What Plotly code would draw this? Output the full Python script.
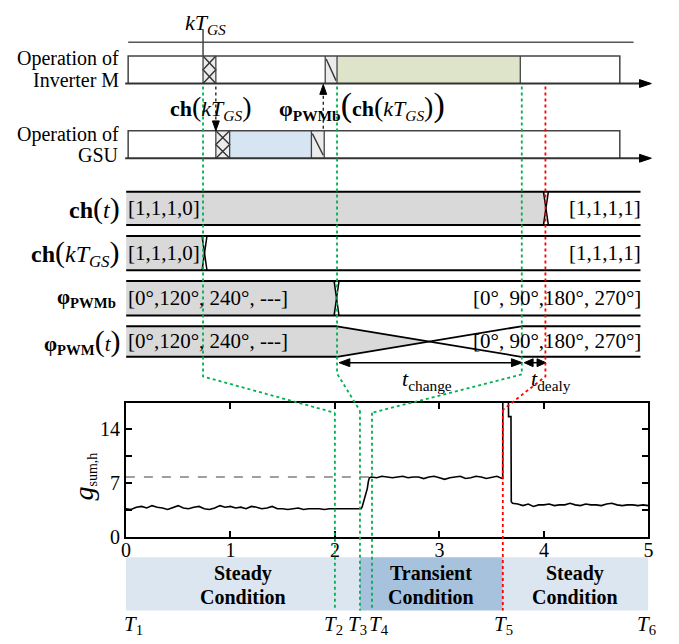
import plotly.graph_objects as go

# ---------------------------------------------------------------- data
# harmonic index g_sum,h over time (s)
time_s = [
    0.00, 0.05, 0.10, 0.15, 0.20, 0.25, 0.30, 0.35, 0.40, 0.45,
    0.50, 0.55, 0.60, 0.65, 0.70, 0.75, 0.80, 0.85, 0.90, 0.95,
    1.00, 1.05, 1.10, 1.15, 1.20, 1.25, 1.30, 1.35, 1.40,
    1.45, 1.50, 1.55, 1.60, 1.65, 1.70, 1.75, 1.80, 1.85, 1.90,
    1.95, 2.00, 2.05, 2.10, 2.15, 2.20, 2.25,
    2.26, 2.27, 2.28, 2.29, 2.30, 2.31, 2.32, 2.33,
    2.35, 2.40, 2.45, 2.50, 2.55, 2.60, 2.65, 2.70, 2.75, 2.80,
    2.85, 2.90, 2.95, 3.00, 3.05, 3.10, 3.15, 3.20, 3.25, 3.30,
    3.35, 3.40, 3.45, 3.50, 3.55, 3.60,
    3.606, 3.607, 3.660, 3.662, 3.685, 3.688,
    3.70, 3.75, 3.80, 3.85, 3.90, 3.95, 4.00, 4.05, 4.10, 4.15,
    4.20, 4.25, 4.30, 4.35, 4.40, 4.45, 4.50, 4.55, 4.60, 4.65,
    4.70, 4.75, 4.80, 4.85, 4.90, 4.95, 5.00,
]
g_sum_h = [
    3.7, 3.6, 3.9, 4.0, 3.8, 4.1, 3.9, 3.8, 3.6, 3.9,
    4.1, 3.8, 3.7, 3.9, 4.0, 3.7, 3.6, 3.8, 4.1, 3.9,
    4.0, 3.8, 3.9, 3.7, 4.0, 3.9, 3.7, 3.8, 4.0,
    3.7, 3.7, 3.6, 3.7, 3.8, 3.6, 3.7, 3.7, 3.7, 3.6,
    3.7, 3.7, 3.7, 3.7, 3.7, 3.7, 3.7,
    3.9, 4.4, 4.8, 5.5, 5.9, 6.3, 7.2, 7.7,
    7.8, 7.7, 7.9, 7.8, 7.7, 7.8, 7.9, 7.7, 7.8, 7.8,
    7.6, 7.8, 7.9, 7.7, 7.5, 7.7, 7.8, 7.9, 7.6, 7.7,
    7.9, 7.8, 7.6, 7.8, 7.9, 7.6,
    7.6, 19.0, 19.0, 15.6, 15.6, 4.6,
    4.4, 4.3, 4.1, 4.3, 4.0, 4.2, 4.2, 4.3, 4.1, 4.2,
    4.2, 4.4, 4.2, 4.1, 4.3, 4.2, 4.2, 4.1, 4.3, 4.4,
    4.2, 4.1, 4.2, 4.2, 4.1, 4.2, 4.1,
]
ref_level = 7.8
ref_span = [0.0, 2.34]

x_ticks = [0, 1, 2, 3, 4, 5]
y_ticks = [0, 3.5, 7, 10.5, 14]
y_tick_text = ["0", "", "7", "", "14"]
x_range = [0, 5]
y_range = [0, 17.4]

# event instants on the time axis
event_names = ["T1", "T2", "T3", "T4", "T5", "T6"]
event_times = [0.0, 2.0, 2.24, 2.355, 3.607, 5.0]

# operating phases: (start, end, line 1, line 2)
phases = [(0.0, 2.24, "Steady", "Condition"),
          (2.24, 3.607, "Transient", "Condition"),
          (3.607, 5.0, "Steady", "Condition")]

# ---------------------------------------------------------------- layout helpers
W, H = 679, 644
SERIF = "Liberation Serif, Times New Roman, serif"
GREEN = "#00b050"
RED = "#ff0000"
GREY_FILL = "#d9d9d9"
HATCH_FILL = "#ececec"

PLOT_L, PLOT_R = 122.7, 653.0
PLOT_T, PLOT_B = 409.7, 546.7
BAND_T, BAND_B = 567.0, 621.0


def fx(x):
    return x / W


def fy(y):
    return 1 - y / H


def data_px(v):
    """pixel column of a time value on the chart axis"""
    return PLOT_L + (v - x_range[0]) / (x_range[1] - x_range[0]) * (PLOT_R - PLOT_L)


shapes = []
annotations = []


def seg(x0, y0, x1, y1, color="black", width=1.5, dash=None):
    shapes.append(dict(type="line", xref="paper", yref="paper",
                       x0=fx(x0), y0=fy(y0), x1=fx(x1), y1=fy(y1),
                       line=dict(color=color, width=width, dash=dash),
                       layer="above"))


def box(x0, y0, x1, y1, fill):
    shapes.append(dict(type="rect", xref="paper", yref="paper",
                       x0=fx(x0), y0=fy(y0), x1=fx(x1), y1=fy(y1),
                       fillcolor=fill, line=dict(width=0), layer="above"))


def poly(points, fill=None, color="black", width=1.5, closed=True, dash=None):
    path = "M " + " L ".join(f"{fx(x):.5f},{fy(y):.5f}" for x, y in points)
    if closed:
        path += " Z"
    shapes.append(dict(type="path", xref="paper", yref="paper", path=path,
                       fillcolor=fill if fill else "rgba(0,0,0,0)",
                       line=dict(color=color, width=width if width else 0, dash=dash),
                       layer="above"))


def text(x, y, s, size=20, xanchor="center", yanchor="middle", angle=0, color="black",
         pad=1):
    annotations.append(dict(x=fx(x), y=fy(y), xref="paper", yref="paper", text=s,
                            showarrow=False, xanchor=xanchor, yanchor=yanchor,
                            textangle=angle, borderpad=pad,
                            font=dict(family=SERIF, size=size, color=color)))


def cross_hatch(x0, y0, x1, y1):
    box(x0, y0, x1, y1, HATCH_FILL)
    ym = (y0 + y1) / 2
    poly([(x0, y0), (x1, ym), (x0, y1)], closed=False, color="#333", width=1.4)
    poly([(x1, y0), (x0, ym), (x1, y1)], closed=False, color="#333", width=1.4)


def slash_hatch(x0, y0, x1, y1):
    box(x0, y0, x1, y1, HATCH_FILL)
    seg(x0 + 1, y0 + 3, x1 - 1, y1 - 3, "#333", 1.4)


def arrow_head(tip_x, tip_y, direction, length=11, half=4):
    if direction == "right":
        pts = [(tip_x - length, tip_y - half), (tip_x, tip_y), (tip_x - length, tip_y + half)]
    elif direction == "left":
        pts = [(tip_x + length, tip_y - half), (tip_x, tip_y), (tip_x + length, tip_y + half)]
    elif direction == "down":
        pts = [(tip_x - half, tip_y - length), (tip_x, tip_y), (tip_x + half, tip_y - length)]
    else:
        pts = [(tip_x - half, tip_y + length), (tip_x, tip_y), (tip_x + half, tip_y + length)]
    poly(pts, fill="black", color="black", width=1)


def paren(ch, size=26):
    return f"<span style='font-size:{size}px'>{ch}</span>"


# ---------------------------------------------------------------- operation rows
seg(125, 43, 638, 43, "#555", 1.5)
seg(201, 30, 201, 57, "#444", 1.5)
text(181, 24, "<i>kT</i><sub><i>GS</i></sub>", size=22, xanchor="left")

# inverter M
box(337, 57, 523, 85, "#dde4c9")
cross_hatch(201, 57, 214, 85)
slash_hatch(325, 57, 337, 85)
poly([(125, 85), (125, 57), (624, 57), (624, 85)], closed=False, color="#444", width=1.5)
for xv in (201, 214, 325, 337, 523):
    seg(xv, 57, xv, 85, "#444", 1.3)
seg(122, 85, 647, 85, "#333", 2)
arrow_head(656, 85, "right", length=12, half=4)

# grid-support unit
box(228, 133, 311, 161, "#d7e4f1")
cross_hatch(214, 133, 228, 161)
slash_hatch(311, 133, 324, 161)
poly([(125, 161), (125, 133), (624, 133), (624, 161)], closed=False, color="#444", width=1.5)
for xv in (214, 228, 311, 324):
    seg(xv, 133, xv, 161, "#444", 1.3)
seg(122, 161, 647, 161, "#333", 2)
arrow_head(656, 161, "right", length=12, half=4)

# dotted hand-over arrows
seg(214, 88, 214, 124, "black", 1.2, "dot")
arrow_head(214, 133, "down", length=10, half=3.5)
seg(323, 131, 323, 95, "black", 1.2, "dot")
arrow_head(323, 86, "up", length=10, half=3.5)

text(117, 60, "Operation of", xanchor="right", pad=0)
text(117, 81, "Inverter M", xanchor="right", pad=0)
text(117, 137, "Operation of", xanchor="right", pad=0)
text(117, 158, "GSU", xanchor="right", pad=0)

text(165, 109, "<b>ch</b>" + paren("(", 28) + "<i>kT</i><sub><i>GS</i></sub>" + paren(")", 28),
     size=22, xanchor="left")
text(276, 107, "<b>φ<sub>PWMb</sub></b>" + paren("(", 34) + "<b>ch</b>" + paren("(", 28)
     + "<i>kT</i><sub><i>GS</i></sub>" + paren(")", 28) + paren(")", 34),
     size=22, xanchor="left")

# ---------------------------------------------------------------- signal rows
ROW_L, ROW_R = 123, 645


def row_lines(top, bot):
    seg(ROW_L, top, ROW_R, top, "black", 2)
    seg(ROW_L, bot, ROW_R, bot, "black", 2)


def narrow_x(xc, top, bot, half=2.5):
    seg(xc - half, top, xc + half, bot, "black", 1.5)
    seg(xc + half, top, xc - half, bot, "black", 1.5)


# ch(t)
box(ROW_L, 195, 548, 229, GREY_FILL)
row_lines(195, 229)
narrow_x(549, 195, 229)
# ch(kT_GS)
box(ROW_L, 240, 202, 275, GREY_FILL)
row_lines(240, 275)
narrow_x(202.5, 240, 275)
# phi_PWMb
box(ROW_L, 286, 336, 321, GREY_FILL)
row_lines(286, 321)
narrow_x(336.5, 286, 321)
# phi_PWM(t) with a gradual cross-over
xa, xb, pt, pb = 337, 524, 332, 363
xm, ym = (xa + xb) / 2, (pt + pb) / 2
poly([(ROW_L, pt), (xa, pt), (xm, ym), (xa, pb), (ROW_L, pb)], fill=GREY_FILL, width=0)
seg(ROW_L, pt, xa, pt, "black", 2)
seg(ROW_L, pb, xa, pb, "black", 2)
seg(xb, pt, ROW_R, pt, "black", 2)
seg(xb, pb, ROW_R, pb, "black", 2)
seg(xa, pt, xb, pb, "black", 1.8)
seg(xa, pb, xb, pt, "black", 1.8)

text(119, 212, "<b>ch</b>" + paren("(", 30) + "<i>t</i>" + paren(")", 30),
     size=24, xanchor="right")
text(119, 257, "<b>ch</b>" + paren("(", 30) + "<i>kT</i><sub><i>GS</i></sub>" + paren(")", 30),
     size=24, xanchor="right")
text(115, 303, "<b>φ<sub>PWMb</sub></b>", size=21, xanchor="right")
text(119, 347, "<b>φ<sub>PWM</sub></b>" + paren("(", 30) + "<i>t</i>" + paren(")", 30),
     size=21, xanchor="right")

text(123, 212, "[1,1,1,0]", size=21, xanchor="left")
text(123, 257, "[1,1,1,0]", size=21, xanchor="left")
text(648, 212, "[1,1,1,1]", size=21, xanchor="right")
text(648, 257, "[1,1,1,1]", size=21, xanchor="right")
text(123, 303, "[0°,120°, 240°, ---]", size=21, xanchor="left")
text(123, 347, "[0°,120°, 240°, ---]", size=21, xanchor="left")
text(648, 303, "[0°, 90°,180°, 270°]", size=21, xanchor="right")
text(648, 347, "[0°, 90°,180°, 270°]", size=21, xanchor="right")

# interval arrows
seg(342, 369, 522, 369, "black", 1.5)
arrow_head(339, 369, "left")
arrow_head(525, 369, "right")
seg(530, 369, 546, 369, "black", 1.5)
arrow_head(527, 369, "left", length=9)
arrow_head(549, 369, "right", length=9)
text(428, 387, "<i>t</i><sub>change</sub>", size=22)
text(554, 387, "<i>t</i><sub>dealy</sub>", size=22)

# ---------------------------------------------------------------- phase band
band_fills = ["#dce6f1", "#a7c2dd", "#dce6f1"]
label_cols = [242, 432, 579]
for (a, b, l1, l2), fill, cx in zip(phases, band_fills, label_cols):
    shapes.append(dict(type="rect", xref="x", yref="paper", x0=a, x1=b,
                       y0=fy(BAND_B), y1=fy(BAND_T), fillcolor=fill,
                       line=dict(width=0), layer="below"))
    text(cx, 583, f"<b>{l1}</b>", size=20, pad=0)
    text(cx, 607, f"<b>{l2}</b>", size=20, pad=0)

# horizontal nudges so that neighbouring event labels stay apart
label_dx = [8, -1, -2, 7, 1, -2]
for name, t, dx in zip(event_names, event_times, label_dx):
    text(data_px(t) + dx, 636, f"<i>{name[0]}</i><sub>{name[1]}</sub>", size=21, pad=0)

# ---------------------------------------------------------------- guide lines
guides = [  # (top column px, bend y, chart-entry y, time value, colour)
    (201, 383, 420, event_times[1], GREEN),
    (337, 380, 418, event_times[2], GREEN),
    (524.5, 381, 420, event_times[3], GREEN),
    (548.5, 383, 417, event_times[4], RED),
]
for col, bend, entry, t, colr in guides:
    poly([(col, 88), (col, bend), (data_px(t), entry)], closed=False,
         color=colr, width=1.8, dash="dot")
    shapes.append(dict(type="line", xref="x", yref="paper", x0=t, x1=t,
                       y0=fy(entry), y1=fy(BAND_B), layer="above",
                       line=dict(color=colr, width=1.8, dash="dot")))

# ---------------------------------------------------------------- chart
fig = go.Figure()
fig.add_trace(go.Scatter(x=ref_span, y=[ref_level, ref_level], mode="lines",
                         line=dict(color="#808080", width=1.3, dash="dash"),
                         hoverinfo="skip"))
fig.add_trace(go.Scatter(x=time_s, y=g_sum_h, mode="lines",
                         line=dict(color="black", width=1.6)))

text(80, 485, "<span style='font-size:28px'><i>g</i></span><sub>sum,h</sub>",
     size=20, angle=-90)

axis_common = dict(showline=True, linewidth=2, linecolor="black", mirror="ticks",
                   ticks="inside", ticklen=6, tickwidth=1.5, tickcolor="black",
                   showgrid=False, zeroline=False,
                   tickfont=dict(family=SERIF, size=20, color="black"))

fig.update_layout(
    width=W, height=H,
    margin=dict(l=0, r=0, t=0, b=0),
    paper_bgcolor="white", plot_bgcolor="white",
    showlegend=False,
    xaxis=dict(domain=[fx(PLOT_L), fx(PLOT_R)], range=x_range, tickvals=x_ticks,
               ticklabelstandoff=-6, **axis_common),
    yaxis=dict(domain=[fy(PLOT_B), fy(PLOT_T)], range=y_range, tickvals=y_ticks,
               ticktext=y_tick_text, **axis_common),
    shapes=shapes,
    annotations=annotations,
)

fig.write_html("out.html")
